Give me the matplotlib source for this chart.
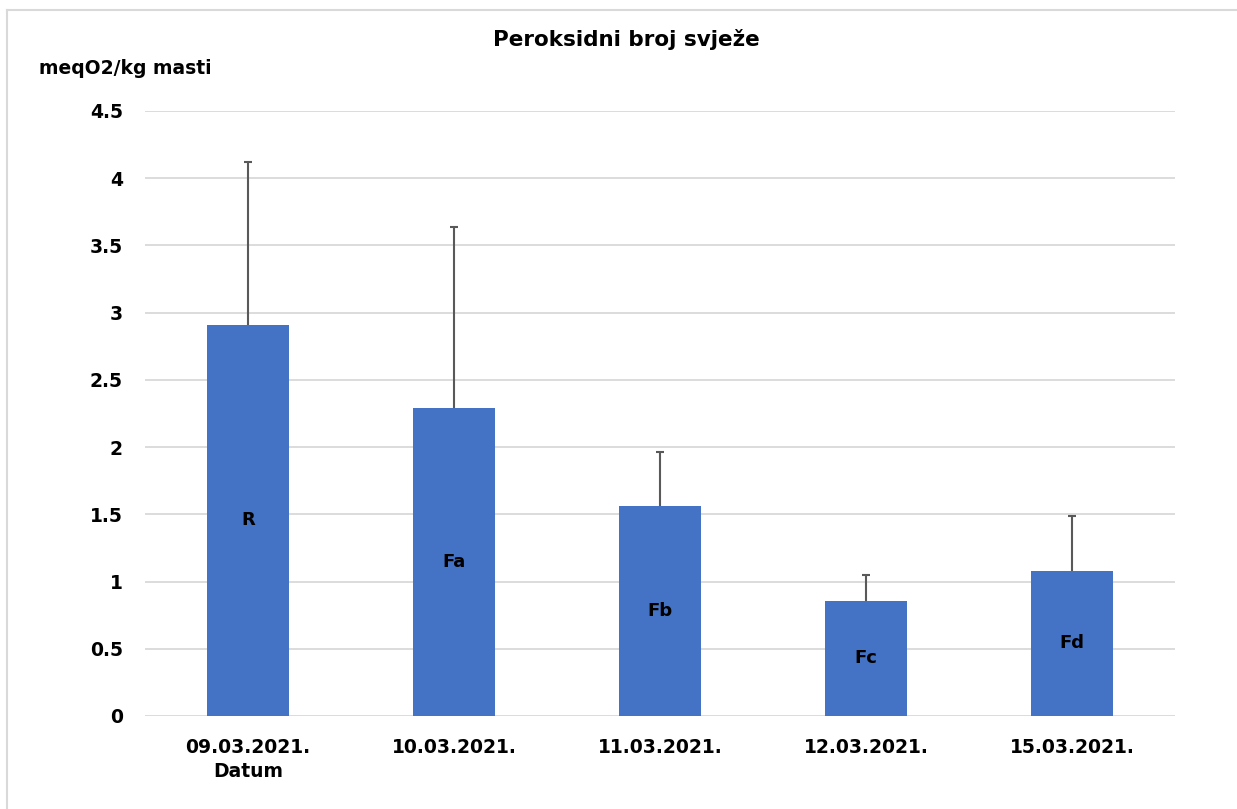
import numpy as np
import matplotlib.pyplot as plt
from matplotlib.lines import Line2D

# podaci
datumi = ['09.03.2021.\nDatum', '10.03.2021.', '11.03.2021.', '12.03.2021.', '15.03.2021.']
uzorci = ['R', 'Fa', 'Fb', 'Fc', 'Fd']
srednje = [2.91, 2.29, 1.56, 0.855, 1.08]
sd = [1.21, 1.345, 0.40, 0.19, 0.41]
y_ticks = [0, 0.5, 1, 1.5, 2, 2.5, 3, 3.5, 4, 4.5]

plt.rcParams['font.family'] = ['DejaVu Sans']

fig = plt.figure(figsize=(12.37, 8.09), dpi=100)
ax = fig.add_axes([0.1172, 0.1150, 0.8327, 0.7478])

x = np.arange(len(datumi))
gornje = np.array(srednje) + np.array(sd)
ax.bar(x, srednje, width=0.40, color='#4472C4', zorder=3)
# samo gornji dio greske
ax.vlines(x, srednje, gornje, color='#595959', linewidth=1.5, zorder=4)
ax.hlines(gornje, x - 0.02, x + 0.02, color='#595959', linewidth=1.5, zorder=4)

for xi, v, s in zip(x, srednje, uzorci):
    ax.text(xi, v / 2, s, ha='center', va='center', fontsize=13,
            fontweight='bold', color='black', zorder=5)

ax.set_xlim(-0.5, len(datumi) - 0.5)
ax.set_ylim(0, 4.5)
ax.set_yticks(y_ticks)
ax.set_yticklabels(['0', '0.5', '1', '1.5', '2', '2.5', '3', '3.5', '4', '4.5'])
ax.set_xticks(x)
ax.set_xticklabels(datumi, linespacing=1.35)
ax.tick_params(axis='both', length=0, labelsize=13.5)
ax.tick_params(axis='y', pad=16)
ax.tick_params(axis='x', pad=16)
for lab in ax.get_xticklabels() + ax.get_yticklabels():
    lab.set_fontweight('bold')

ax.grid(axis='y', color='#D9D9D9', linewidth=1.3, zorder=0)
for sp in ax.spines.values():
    sp.set_visible(False)

fig.text(0.506, 1 - 40 / 809, 'Peroksidni broj svježe', ha='center', va='center',
         fontsize=15.5, fontweight='bold')
fig.text(39 / 1237, 1 - 68 / 809, 'meqO2/kg masti', ha='left', va='center',
         fontsize=13.5, fontweight='bold')

# okvir grafa
fig.add_artist(Line2D([7 / 1237, 7 / 1237], [0, 1 - 10 / 809], color='#D9D9D9', linewidth=1.5))
fig.add_artist(Line2D([7 / 1237, 1], [1 - 10 / 809, 1 - 10 / 809], color='#D9D9D9', linewidth=1.5))

fig.savefig('out.png', dpi=100)
